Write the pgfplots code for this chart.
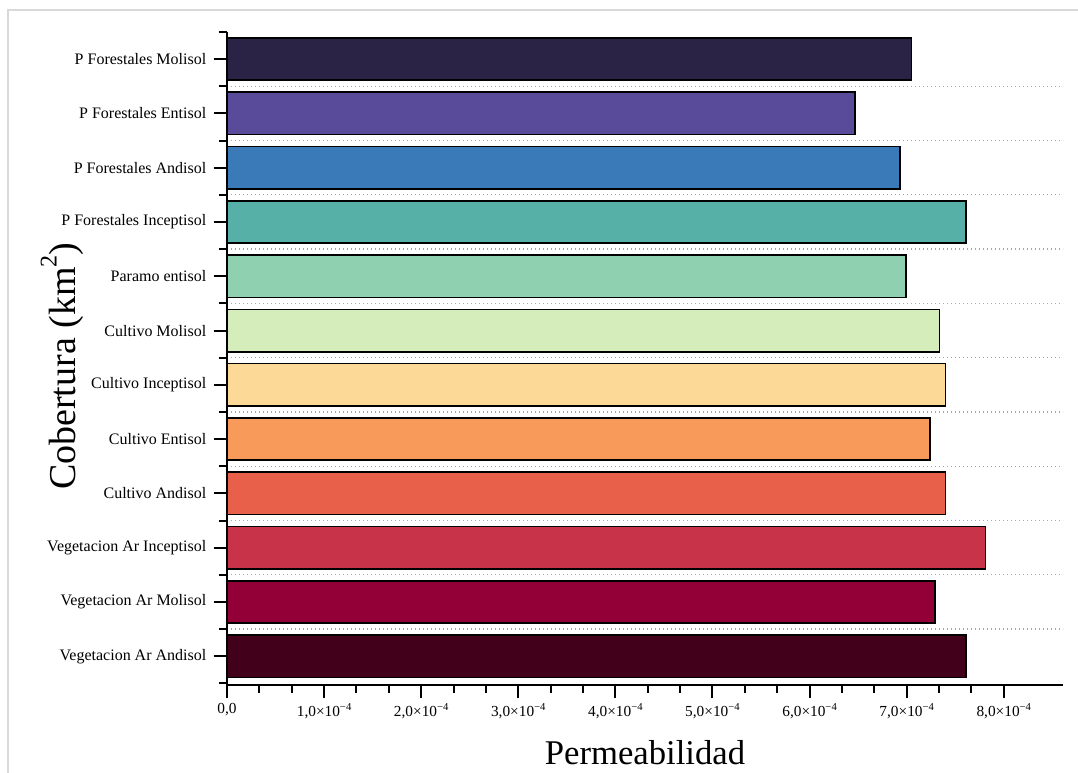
\documentclass[border=0pt]{standalone}
\usepackage{pgfplots}
\pgfplotsset{compat=1.18}
\usepackage{fontspec}
\setmainfont{Liberation Serif}

\definecolor{c1}{HTML}{2A2346}
\definecolor{c2}{HTML}{5A4A9A}
\definecolor{c3}{HTML}{3A7AB8}
\definecolor{c4}{HTML}{56B0A8}
\definecolor{c5}{HTML}{8FD0B0}
\definecolor{c6}{HTML}{D5EDBB}
\definecolor{c7}{HTML}{FDD998}
\definecolor{c8}{HTML}{F89A5A}
\definecolor{c9}{HTML}{E8604A}
\definecolor{c10}{HTML}{C8334A}
\definecolor{c11}{HTML}{930038}
\definecolor{c12}{HTML}{42001A}

\newcommand{\sq}[1]{\raisebox{0.45em}{\fontsize{8}{8}\selectfont #1}}

\begin{document}
\begin{tikzpicture}
\path[use as bounding box] (0,0) rectangle (808.5pt,579.75pt);
\draw[line width=1.5pt, color=black!15] (6pt,0) -- (6pt,572.25pt) -- (808.5pt,572.25pt);
\begin{axis}[
  at={(170.25pt,66pt)}, anchor=south west,
  scale only axis,
  width=627pt, height=489.75pt,
  xbar, bar shift=0pt, bar width=0.78,
  xmin=0, xmax=8.61e-4,
  ymin=-0.53, ymax=11.5,
  axis x line*=bottom, axis y line*=left,
  axis line style={line width=1.5pt, -},
  tick align=outside,
  major tick length=10pt, minor tick length=6pt,
  every tick/.style={black, line width=1.5pt},
  scaled x ticks=false,
  xtick={0,1e-4,2e-4,3e-4,4e-4,5e-4,6e-4,7e-4,8e-4},
  xticklabels={{0,0},{1,0×10\sq{−4}},{2,0×10\sq{−4}},{3,0×10\sq{−4}},{4,0×10\sq{−4}},{5,0×10\sq{−4}},{6,0×10\sq{−4}},{7,0×10\sq{−4}},{8,0×10\sq{−4}}},
  minor x tick num=2,
  ytick={0,1,2,3,4,5,6,7,8,9,10,11},
  yticklabels={Vegetacion Ar Andisol, Vegetacion Ar Molisol, Vegetacion Ar Inceptisol, Cultivo Andisol, Cultivo Entisol, Cultivo Inceptisol, Cultivo Molisol, Paramo entisol, P Forestales Inceptisol, P Forestales Andisol, P Forestales Entisol, P Forestales Molisol},
  minor ytick={0.5,1.5,2.5,3.5,4.5,5.5,6.5,7.5,8.5,9.5,10.5},
  yminorgrids=true,
  minor y grid style={black!35, line width=1pt, dotted},
  extra y ticks={-0.5,11.5},
  extra y tick labels={},
  extra y tick style={grid=none, major tick length=6pt},
  xticklabel style={font=\fontsize{11.5}{13}\selectfont},
  yticklabel style={font=\fontsize{12}{14}\selectfont, xshift=-2pt},
  xlabel={Permeabilidad},
  ylabel={Cobertura (km\raisebox{0.5em}{\fontsize{18}{18}\selectfont 2})},
  xlabel style={font=\fontsize{26}{30}\selectfont, at={(axis description cs:0.5,-0.103)}, anchor=center},
  ylabel style={font=\fontsize{28.5}{32}\selectfont, at={(axis description cs:-0.197,0.488)}, anchor=center},
  clip=false,
]
\addplot[fill=c12, draw=black, line width=1.2pt] coordinates {(7.61e-4,0)};
\addplot[fill=c11, draw=black, line width=1.2pt] coordinates {(7.29e-4,1)};
\addplot[fill=c10, draw=black, line width=1.2pt] coordinates {(7.81e-4,2)};
\addplot[fill=c9, draw=black, line width=1.2pt] coordinates {(7.40e-4,3)};
\addplot[fill=c8, draw=black, line width=1.2pt] coordinates {(7.24e-4,4)};
\addplot[fill=c7, draw=black, line width=1.2pt] coordinates {(7.40e-4,5)};
\addplot[fill=c6, draw=black, line width=1.2pt] coordinates {(7.34e-4,6)};
\addplot[fill=c5, draw=black, line width=1.2pt] coordinates {(6.99e-4,7)};
\addplot[fill=c4, draw=black, line width=1.2pt] coordinates {(7.61e-4,8)};
\addplot[fill=c3, draw=black, line width=1.2pt] coordinates {(6.93e-4,9)};
\addplot[fill=c2, draw=black, line width=1.2pt] coordinates {(6.47e-4,10)};
\addplot[fill=c1, draw=black, line width=1.2pt] coordinates {(7.05e-4,11)};
\end{axis}
\end{tikzpicture}
\end{document}
